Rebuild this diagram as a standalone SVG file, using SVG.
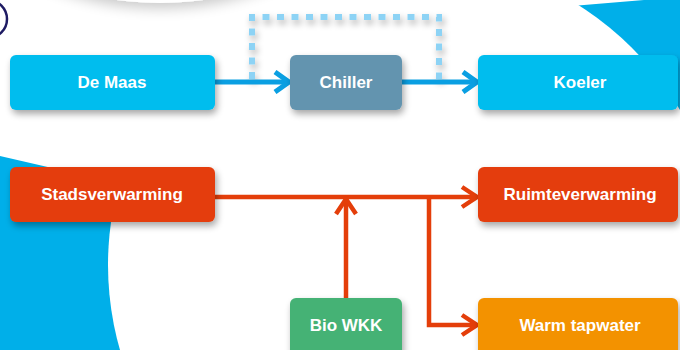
<svg xmlns="http://www.w3.org/2000/svg" width="680" height="350" viewBox="0 0 680 350">
  <defs>
    <filter id="sh" x="-20%" y="-30%" width="140%" height="170%">
      <feGaussianBlur in="SourceAlpha" stdDeviation="3.5"/>
      <feOffset dx="2" dy="4" result="b"/>
      <feComponentTransfer><feFuncA type="linear" slope="0.35"/></feComponentTransfer>
      <feMerge><feMergeNode/><feMergeNode in="SourceGraphic"/></feMerge>
    </filter>
    <filter id="bigsh" x="-30%" y="-30%" width="160%" height="160%">
      <feGaussianBlur in="SourceAlpha" stdDeviation="7"/>
      <feOffset dx="0" dy="5"/>
      <feComponentTransfer><feFuncA type="linear" slope="0.22"/></feComponentTransfer>
      <feMerge><feMergeNode/><feMergeNode in="SourceGraphic"/></feMerge>
    </filter>
    <marker id="ab" viewBox="0 0 20 24" refX="17" refY="12" markerWidth="20" markerHeight="24" markerUnits="userSpaceOnUse" orient="auto">
      <path d="M3,2 L17,12 L3,22" fill="none" stroke="#0A9FE2" stroke-width="5"/>
    </marker>
    <marker id="ar" viewBox="0 0 22 24" refX="19" refY="12" markerWidth="22" markerHeight="24" markerUnits="userSpaceOnUse" orient="auto">
      <path d="M4,2 L19,12 L4,22" fill="none" stroke="#E43E0A" stroke-width="4.5"/>
    </marker>
    <style>
      .node rect { filter: url(#sh); }
      .lbl { font-family: "Liberation Sans", Arial, sans-serif; font-weight: bold; font-size: 17px; fill: #ffffff; text-anchor: middle; }
      .blue { fill: #00BDEE; }
      .chill { fill: #6394AF; }
      .red { fill: #E43E0A; }
      .green { fill: #45B274; }
      .orange { fill: #F39200; }
      .cb { fill: none; stroke: #0A9FE2; stroke-width: 5; marker-end: url(#ab); }
      .cr { fill: none; stroke: #E43E0A; stroke-width: 4.5; }
    </style>
  </defs>

  <!-- background -->
  <g id="background">
    <rect x="0" y="0" width="680" height="350" fill="#ffffff"/>
    <polygon points="0,156 130,186 130,350 0,350" fill="#00AFE9"/>
    <polygon points="560,7 680,-3 680,350 560,350" fill="#00AFE9"/>
    <circle cx="415" cy="265" r="307" fill="#ffffff"/>
    <circle cx="160" cy="-300" r="303" fill="#ffffff" filter="url(#bigsh)"/>
    <circle cx="-12" cy="19" r="19" fill="none" stroke="#1E1B63" stroke-width="2.5"/>
  </g>

  <!-- connectors -->
  <g id="connectors">
    <path d="M252,79 V17 H439 V79" fill="none" stroke="#8DD3F5" stroke-width="6" stroke-dasharray="7 7.5" filter="url(#sh)"/>
    <path class="cb" d="M215,82 H289"/>
    <path class="cb" d="M402,82 H477"/>
    <path class="cr" d="M215,197 H477" marker-end="url(#ar)"/>
    <path class="cr" d="M346,298 V199" marker-end="url(#ar)"/>
    <path class="cr" d="M429,197 V325 H477" marker-end="url(#ar)"/>
  </g>

  <!-- nodes -->
  <g id="de-maas" class="node">
    <rect class="blue" x="10" y="55" width="205" height="55" rx="6"/>
    <text class="lbl" x="112" y="88">De Maas</text>
  </g>
  <g id="chiller" class="node">
    <rect class="chill" x="290" y="55" width="112" height="55" rx="6"/>
    <text class="lbl" x="346" y="88">Chiller</text>
  </g>
  <g id="koeler" class="node">
    <rect class="blue" x="478" y="55" width="200" height="55" rx="6"/>
    <text class="lbl" x="580" y="88">Koeler</text>
  </g>
  <g id="stadsverwarming" class="node">
    <rect class="red" x="10" y="167" width="205" height="55" rx="6"/>
    <text class="lbl" x="112" y="200">Stadsverwarming</text>
  </g>
  <g id="ruimteverwarming" class="node">
    <rect class="red" x="478" y="167" width="200" height="55" rx="6"/>
    <text class="lbl" x="580" y="200">Ruimteverwarming</text>
  </g>
  <g id="bio-wkk" class="node">
    <rect class="green" x="290" y="298" width="112" height="58" rx="6"/>
    <text class="lbl" x="346" y="331">Bio WKK</text>
  </g>
  <g id="warm-tapwater" class="node">
    <rect class="orange" x="478" y="298" width="200" height="58" rx="6"/>
    <text class="lbl" x="580" y="331">Warm tapwater</text>
  </g>
</svg>
